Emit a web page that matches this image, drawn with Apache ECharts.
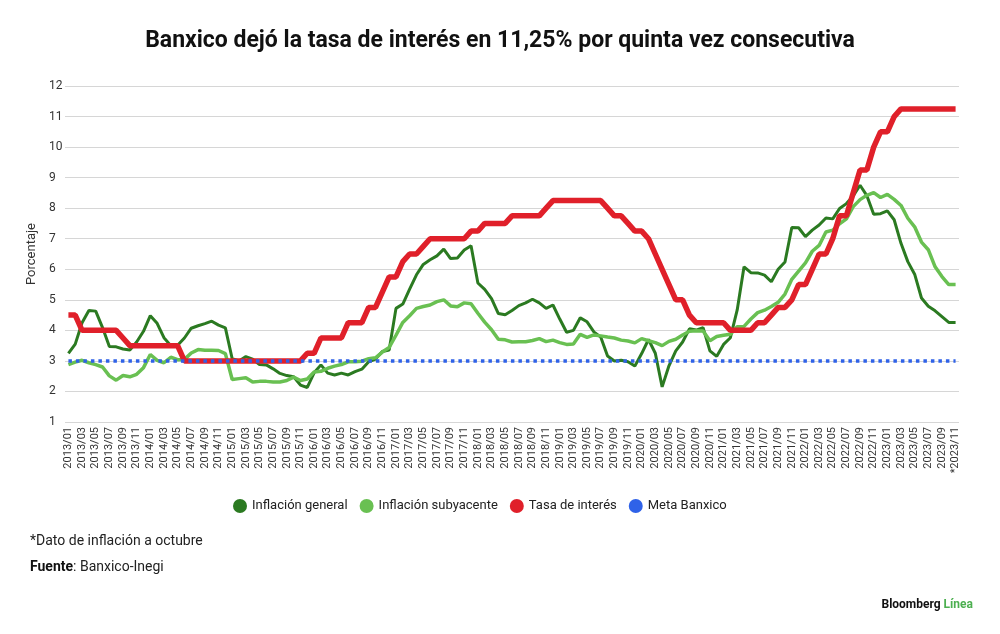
<!DOCTYPE html>
<html>
<head>
<meta charset="utf-8">
<script src="https://cdn.jsdelivr.net/npm/echarts@6/dist/echarts.min.js"></script>
<style>
    html, body { margin: 0; padding: 0; background: #fff; }
    #chart { width: 1000px; height: 634px; }
</style>
</head>
<body>
<div id="chart"></div>
<script>
    // meses 2013/01 .. 2023/11
    var months = [];
    for (var y = 2013; y <= 2023; y++) {
        for (var m = 1; m <= 12; m++) {
            if (y === 2023 && m > 11) break;
            months.push(y + '/' + (m < 10 ? '0' + m : m));
        }
    }

    var inflacionGeneral = [
        3.25, 3.55, 4.25, 4.65, 4.63, 4.09, 3.47, 3.46, 3.39, 3.36, 3.62, 3.97,
        4.48, 4.23, 3.76, 3.50, 3.51, 3.75, 4.07, 4.15, 4.22, 4.30, 4.17, 4.08,
        3.07, 3.00, 3.14, 3.06, 2.88, 2.87, 2.74, 2.59, 2.52, 2.48, 2.21, 2.13,
        2.61, 2.87, 2.60, 2.54, 2.60, 2.54, 2.65, 2.73, 2.97, 3.06, 3.31, 3.36,
        4.72, 4.86, 5.35, 5.82, 6.16, 6.31, 6.44, 6.66, 6.35, 6.37, 6.63, 6.77,
        5.55, 5.34, 5.04, 4.55, 4.51, 4.65, 4.81, 4.90, 5.02, 4.90, 4.72, 4.83,
        4.37, 3.94, 4.00, 4.41, 4.28, 3.95, 3.78, 3.16, 3.00, 3.02, 2.97, 2.83,
        3.24, 3.70, 3.25, 2.15, 2.84, 3.33, 3.62, 4.05, 4.01, 4.09, 3.33, 3.15,
        3.54, 3.76, 4.67, 6.08, 5.89, 5.88, 5.81, 5.59, 6.00, 6.24, 7.37, 7.36,
        7.07, 7.28, 7.45, 7.68, 7.65, 7.99, 8.15, 8.40, 8.75, 8.41, 7.80, 7.82,
        7.91, 7.62, 6.85, 6.25, 5.84, 5.06, 4.79, 4.64, 4.45, 4.26, 4.26
    ];

    var inflacionSubyacente = [
        2.88, 2.96, 3.02, 2.94, 2.88, 2.80, 2.51, 2.37, 2.52, 2.48, 2.56, 2.78,
        3.21, 3.02, 2.94, 3.12, 3.04, 3.05, 3.26, 3.37, 3.35, 3.35, 3.34, 3.24,
        2.39, 2.42, 2.45, 2.31, 2.33, 2.33, 2.31, 2.31, 2.36, 2.47, 2.36, 2.41,
        2.64, 2.66, 2.76, 2.83, 2.88, 2.97, 2.97, 2.99, 3.07, 3.10, 3.29, 3.44,
        3.84, 4.26, 4.48, 4.72, 4.78, 4.83, 4.94, 5.00, 4.80, 4.77, 4.90, 4.87,
        4.56, 4.27, 4.02, 3.71, 3.69, 3.62, 3.63, 3.63, 3.67, 3.73, 3.63, 3.68,
        3.60, 3.54, 3.55, 3.87, 3.77, 3.85, 3.82, 3.78, 3.75, 3.68, 3.65, 3.59,
        3.73, 3.66, 3.60, 3.50, 3.64, 3.71, 3.85, 3.97, 3.99, 3.98, 3.66, 3.80,
        3.84, 3.87, 4.12, 4.13, 4.37, 4.58, 4.66, 4.78, 4.92, 5.19, 5.67, 5.94,
        6.21, 6.59, 6.78, 7.22, 7.28, 7.49, 7.65, 8.05, 8.28, 8.42, 8.51, 8.35,
        8.45, 8.29, 8.09, 7.67, 7.39, 6.89, 6.64, 6.08, 5.76, 5.50, 5.50
    ];

    var tasaInteres = [
        4.50, 4.50, 4.00, 4.00, 4.00, 4.00, 4.00, 4.00, 3.75, 3.50, 3.50, 3.50,
        3.50, 3.50, 3.50, 3.50, 3.50, 3.00, 3.00, 3.00, 3.00, 3.00, 3.00, 3.00,
        3.00, 3.00, 3.00, 3.00, 3.00, 3.00, 3.00, 3.00, 3.00, 3.00, 3.00, 3.25,
        3.25, 3.75, 3.75, 3.75, 3.75, 4.25, 4.25, 4.25, 4.75, 4.75, 5.25, 5.75,
        5.75, 6.25, 6.50, 6.50, 6.75, 7.00, 7.00, 7.00, 7.00, 7.00, 7.00, 7.25,
        7.25, 7.50, 7.50, 7.50, 7.50, 7.75, 7.75, 7.75, 7.75, 7.75, 8.00, 8.25,
        8.25, 8.25, 8.25, 8.25, 8.25, 8.25, 8.25, 8.00, 7.75, 7.75, 7.50, 7.25,
        7.25, 7.00, 6.50, 6.00, 5.50, 5.00, 5.00, 4.50, 4.25, 4.25, 4.25, 4.25,
        4.25, 4.00, 4.00, 4.00, 4.00, 4.25, 4.25, 4.50, 4.75, 4.75, 5.00, 5.50,
        5.50, 6.00, 6.50, 6.50, 7.00, 7.75, 7.75, 8.50, 9.25, 9.25, 10.00, 10.50,
        10.50, 11.00, 11.25, 11.25, 11.25, 11.25, 11.25, 11.25, 11.25, 11.25, 11.25
    ];

    var metaBanxico = 3;
    var yTicks = { min: 1, max: 12, step: 1 };

    var FONT = 'Roboto';
    var chart = echarts.init(document.getElementById('chart'));

    var option = {
        backgroundColor: '#ffffff',
        animation: false,
        textStyle: { fontFamily: FONT },
        title: {
            text: 'Banxico dejó la tasa de interés en 11,25% por quinta vez consecutiva',
            left: 'center',
            top: 25,
            textStyle: {
                fontFamily: FONT,
                fontSize: 23,
                fontWeight: 'bold',
                color: '#111'
            }
        },
        legend: {
            left: 228,
            top: 494,
            icon: 'circle',
            itemWidth: 14,
            itemHeight: 14,
            itemGap: 12,
            textStyle: { fontSize: 13, color: '#222', fontFamily: FONT },
            data: ['Inflación general', 'Inflación subyacente', 'Tasa de interés', 'Meta Banxico']
        },
        grid: {
            left: 65,
            right: 41,
            top: 86,
            bottom: 212
        },
        xAxis: {
            type: 'category',
            data: months,
            boundaryGap: true,
            axisLine: { show: false },
            axisTick: { show: false },
            axisLabel: {
                interval: 1,
                rotate: 90,
                margin: 5,
                fontSize: 11,
                color: '#333',
                formatter: function (v, i) {
                    return i === months.length - 1 ? '*' + v : v; // dato de inflación a octubre
                }
            }
        },
        yAxis: {
            type: 'value',
            min: yTicks.min,
            max: yTicks.max,
            interval: yTicks.step,
            name: 'Porcentaje',
            nameLocation: 'middle',
            nameGap: 17,
            nameTextStyle: { fontSize: 13, color: '#333' },
            axisLine: { show: false },
            axisTick: { show: false },
            axisLabel: {
                align: 'left',
                margin: 16,
                fontSize: 12,
                color: '#333'
            },
            splitLine: {
                lineStyle: { color: '#d6d6d6', width: 1 }
            }
        },
        series: [{
            name: 'Inflación general',
            type: 'line',
            showSymbol: false,
            color: '#2b7a21',
            lineStyle: { width: 3, color: '#2b7a21' },
            data: inflacionGeneral
        }, {
            name: 'Inflación subyacente',
            type: 'line',
            showSymbol: false,
            color: '#69c052',
            lineStyle: { width: 3.5, color: '#69c052' },
            data: inflacionSubyacente
        }, {
            name: 'Tasa de interés',
            type: 'line',
            showSymbol: false,
            color: '#e0202a',
            lineStyle: { width: 5.5, color: '#e0202a' },
            data: tasaInteres
        }, {
            name: 'Meta Banxico',
            type: 'line',
            showSymbol: false,
            color: '#2f62e8',
            itemStyle: { color: '#2f62e8' },
            lineStyle: { width: 3.5, color: '#2f62e8', type: [3.5, 4] },
            data: [[months[0], metaBanxico], [months[months.length - 1], metaBanxico]]
        }],
        graphic: [{
            type: 'text',
            left: 30,
            top: 534,
            style: {
                text: '*Dato de inflación a octubre',
                font: '14px ' + FONT,
                fill: '#222'
            }
        }, {
            type: 'text',
            left: 30,
            top: 560,
            style: {
                text: '{b|Fuente}: Banxico-Inegi',
                font: '14px ' + FONT,
                fill: '#222',
                rich: {
                    b: { fontWeight: 'bold', fontSize: 14, fontFamily: FONT, fill: '#111' }
                }
            }
        }, {
            type: 'text',
            right: 27,
            top: 599,
            style: {
                text: 'Bloomberg {g|Línea}',
                font: 'bold 12px ' + FONT,
                fill: '#111',
                rich: {
                    g: { fontWeight: 'bold', fontSize: 12, fontFamily: FONT, fill: '#4caf50' }
                }
            }
        }]
    };
    chart.setOption(option);
</script>
</body>
</html>
